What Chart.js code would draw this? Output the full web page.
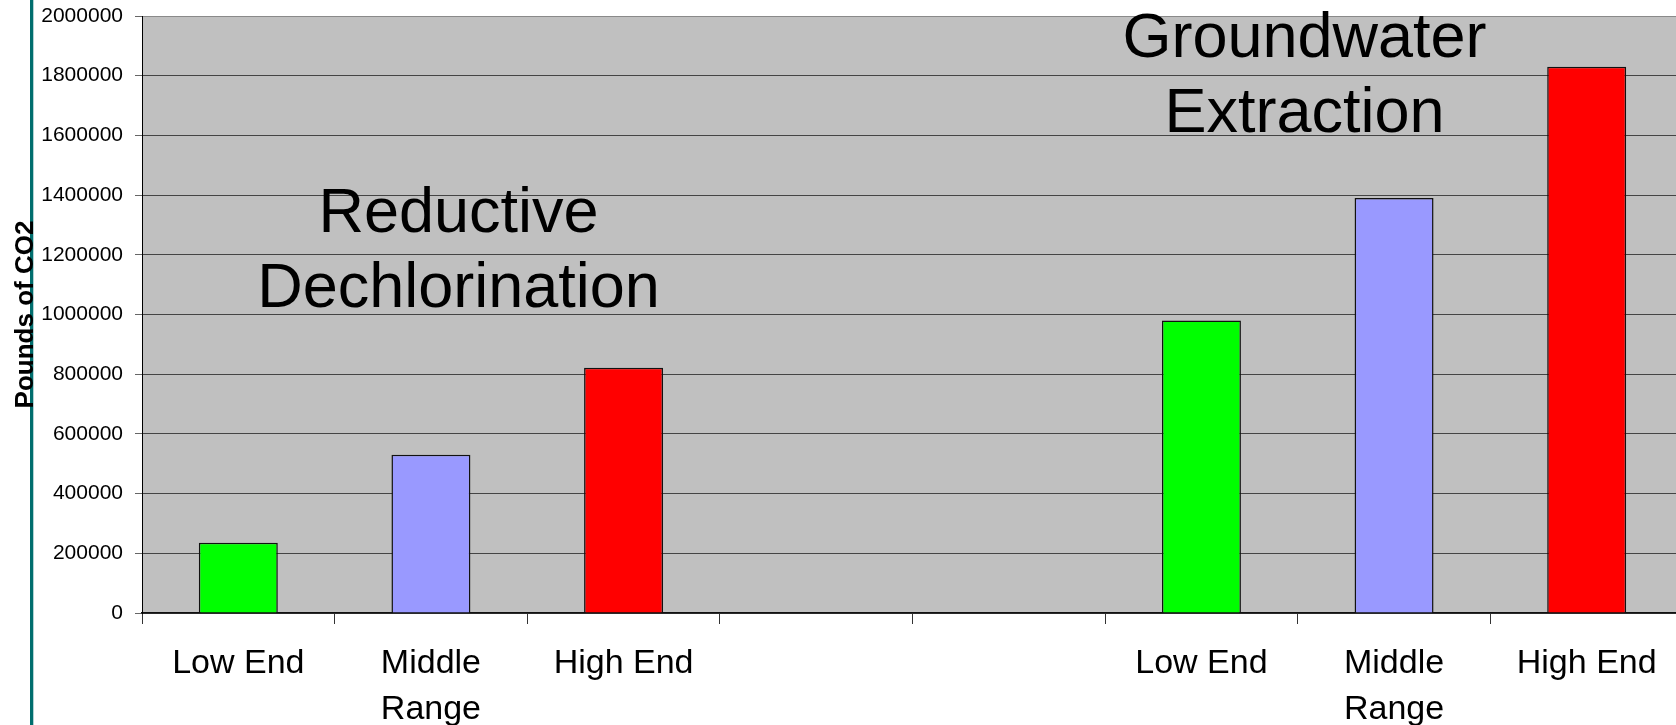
<!DOCTYPE html>
<html>
<head>
<meta charset="utf-8">
<script src="https://cdn.jsdelivr.net/npm/chart.js@4/dist/chart.umd.min.js"></script>
<style>
  html, body { margin: 0; padding: 0; background: #ffffff; overflow: hidden; }
  #wrap { position: relative; width: 1690px; height: 725px; }
</style>
</head>
<body>
<div id="wrap"><canvas id="chart" width="1690" height="725"></canvas></div>
<script>
// Categories along the x axis (two groups separated by two empty slots)
const categories = ['Low End', ['Middle', 'Range'], 'High End', '', '', 'Low End', ['Middle', 'Range'], 'High End'];
// Pounds of CO2 for each category
const co2Values = [235000, 530000, 822000, null, null, 980000, 1390000, 1830000];
// Fill colour per category
const barColors = ['#00ff00', '#9999ff', '#ff0000', null, null, '#00ff00', '#9999ff', '#ff0000'];
// Y axis range
const yMax = 2000000;
const yStep = 200000;
// Group headings
const groupTitles = [
  { lines: ['Reductive', 'Dechlorination'], x: 458.5, y: 231.7 },
  { lines: ['Groundwater', 'Extraction'], x: 1304.5, y: 56.7 }
];

const FONT = '"Liberation Sans", Arial, sans-serif';

// Teal rule down the left side of the slide
const sideRule = {
  id: 'sideRule',
  beforeDraw(chart) {
    const ctx = chart.ctx;
    ctx.save();
    ctx.fillStyle = '#006e6e';
    ctx.fillRect(30, 0, 3.3, chart.height);
    ctx.restore();
  }
};

// Grey plot background
const plotBackground = {
  id: 'plotBackground',
  beforeDraw(chart) {
    const { ctx, chartArea: a } = chart;
    if (!a) return;
    ctx.save();
    ctx.fillStyle = '#c0c0c0';
    ctx.fillRect(a.left, a.top, a.right - a.left, a.bottom - a.top);
    ctx.restore();
  }
};

// Large two-line headings over each group of bars
const groupHeadings = {
  id: 'groupHeadings',
  afterDatasetsDraw(chart) {
    const ctx = chart.ctx;
    ctx.save();
    ctx.fillStyle = '#000000';
    ctx.font = '63px ' + FONT;
    ctx.textAlign = 'center';
    ctx.textBaseline = 'alphabetic';
    groupTitles.forEach(g => {
      g.lines.forEach((line, i) => ctx.fillText(line, g.x, g.y + i * 75.5));
    });
    ctx.restore();
  }
};

new Chart(document.getElementById('chart'), {
  type: 'bar',
  data: {
    labels: categories,
    datasets: [{
      data: co2Values,
      backgroundColor: barColors,
      borderColor: '#111111',
      borderWidth: 1.5,
      barPercentage: 0.41,
      categoryPercentage: 1.0
    }]
  },
  options: {
    responsive: false,
    animation: false,
    devicePixelRatio: 1,
    layout: { padding: { left: 0, top: 16, right: 7, bottom: 0 } },
    plugins: {
      legend: { display: false },
      tooltip: { enabled: false }
    },
    scales: {
      x: {
        offset: true,
        grid: {
          offset: true,
          drawOnChartArea: false,
          drawTicks: true,
          tickLength: 11,
          tickColor: '#333333',
          tickWidth: 1
        },
        border: { display: true, color: '#111111', width: 1.5 },
        ticks: {
          color: '#000000',
          font: { family: FONT, size: 34, lineHeight: 1.34 },
          padding: 17,
          maxRotation: 0,
          minRotation: 0,
          autoSkip: false
        },
        afterFit(scale) {
          scale.height = 112;
          scale.paddingLeft = 0;
          scale.paddingRight = 0;
        }
      },
      y: {
        min: 0,
        max: yMax,
        ticks: {
          stepSize: yStep,
          color: '#000000',
          font: { family: FONT, size: 21 },
          padding: 12,
          callback: v => String(v)
        },
        grid: {
          color: ctx => (ctx.tick && ctx.tick.value === yMax) ? '#8a8a8a' : '#444444',
          lineWidth: 1,
          drawTicks: true,
          tickLength: 7,
          tickColor: '#666666'
        },
        border: { display: true, color: '#000000', width: 1 },
        title: {
          display: true,
          text: 'Pounds of CO2',
          color: '#000000',
          font: { family: FONT, size: 26, weight: 'bold' },
          padding: { top: 10, bottom: 0 }
        },
        afterFit(scale) {
          scale.width = 142;
          scale.paddingTop = 0;
          scale.paddingBottom = 0;
        }
      }
    }
  },
  plugins: [sideRule, plotBackground, groupHeadings]
});
</script>
</body>
</html>
